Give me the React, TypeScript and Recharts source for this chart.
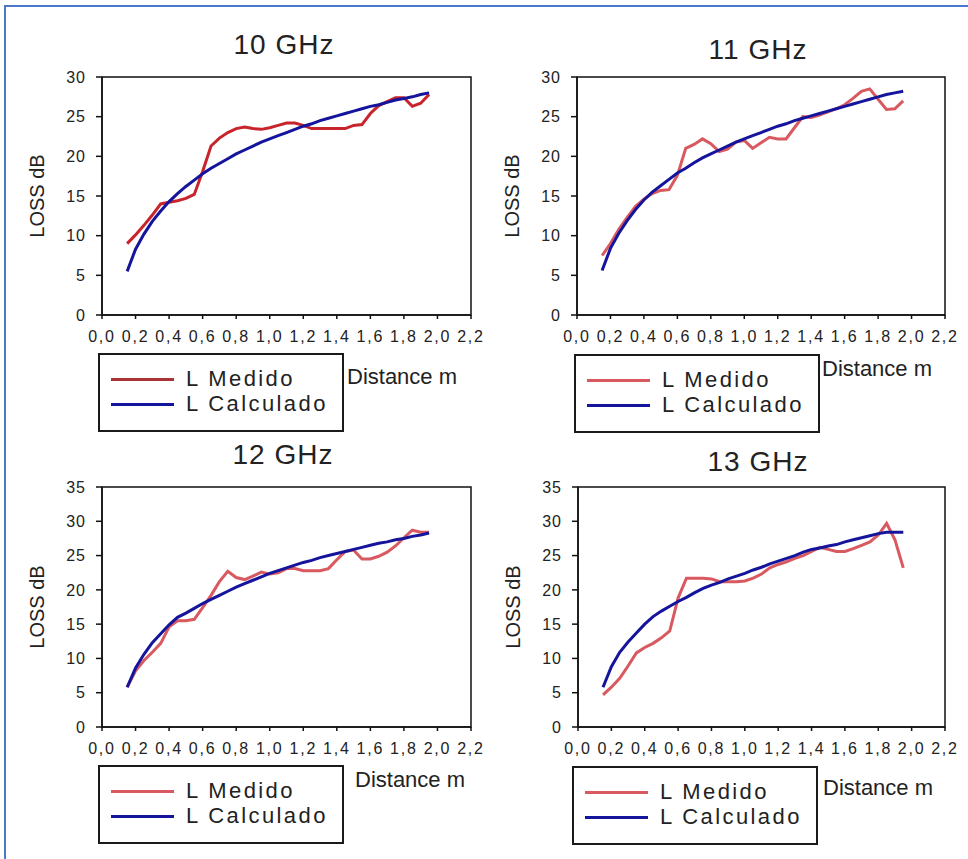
import React from "react"
import { LineChart, Line, XAxis, YAxis, Legend, ReferenceArea } from "recharts"

// distance in m, shared by every series
const distance = [
  0.15, 0.2, 0.25, 0.3, 0.35, 0.4, 0.45, 0.5, 0.55, 0.6, 0.65, 0.7, 0.75, 0.8, 0.85, 0.9, 0.95, 1.0, 1.05,
  1.1, 1.15, 1.2, 1.25, 1.3, 1.35, 1.4, 1.45, 1.5, 1.55, 1.6, 1.65, 1.7, 1.75, 1.8, 1.85, 1.9, 1.95,
]

const medido10 = [
  9.0, 10.1, 11.3, 12.6, 14.0, 14.2, 14.4, 14.7, 15.2, 18.1, 21.3, 22.3, 23.0, 23.5, 23.7, 23.5, 23.4, 23.6, 23.9,
  24.2, 24.2, 23.9, 23.5, 23.5, 23.5, 23.5, 23.5, 23.9, 24.0, 25.4, 26.4, 26.9, 27.4, 27.4, 26.3, 26.7, 27.8,
]
const calculado10 = [
  5.5, 8.3, 10.2, 11.8, 13.1, 14.3, 15.3, 16.2, 17.0, 17.8, 18.5, 19.1, 19.7, 20.3, 20.8, 21.3, 21.8, 22.2, 22.6,
  23.0, 23.4, 23.8, 24.1, 24.5, 24.8, 25.1, 25.4, 25.7, 26.0, 26.3, 26.5, 26.8, 27.1, 27.3, 27.5, 27.8, 28.0,
]

const medido11 = [
  7.5, 9.0, 10.8, 12.3, 13.7, 14.6, 15.3, 15.7, 15.8, 17.6, 21.0, 21.5, 22.2, 21.6, 20.6, 20.9, 21.8, 22.0, 21.0,
  21.7, 22.4, 22.2, 22.2, 23.6, 25.0, 24.9, 25.2, 25.6, 26.0, 26.5, 27.3, 28.2, 28.5, 27.2, 25.9, 26.0, 27.0,
]
const calculado11 = [
  5.6, 8.4, 10.3, 11.9, 13.3, 14.5, 15.5, 16.3, 17.1, 17.9, 18.5, 19.2, 19.8, 20.3, 20.8, 21.3, 21.8, 22.2, 22.6,
  23.0, 23.4, 23.8, 24.1, 24.5, 24.8, 25.1, 25.4, 25.7, 26.0, 26.3, 26.6, 26.9, 27.2, 27.5, 27.8, 28.0, 28.2,
]

const medido12 = [
  5.8, 8.2, 9.7, 10.9, 12.2, 14.6, 15.5, 15.5, 15.7, 17.4, 19.2, 21.2, 22.7, 21.8, 21.5, 22.0, 22.6, 22.3, 22.5,
  23.1, 23.1, 22.8, 22.8, 22.8, 23.1, 24.4, 25.6, 25.8, 24.5, 24.5, 24.9, 25.5, 26.4, 27.6, 28.7, 28.4, 28.4,
]
const calculado12 = [
  5.8, 8.6, 10.6, 12.3, 13.6, 14.9, 16.0, 16.6, 17.3, 18.0, 18.6, 19.2, 19.8, 20.4, 20.9, 21.4, 21.9, 22.4, 22.8,
  23.2, 23.6, 24.0, 24.3, 24.7, 25.0, 25.3, 25.6, 25.9, 26.2, 26.5, 26.8, 27.0, 27.3, 27.5, 27.8, 28.0, 28.3,
]

const medido13 = [
  4.7, 5.8, 7.1, 8.9, 10.8, 11.6, 12.2, 13.0, 14.0, 18.8, 21.7, 21.7, 21.7, 21.6, 21.2, 21.2, 21.2, 21.3, 21.7,
  22.3, 23.2, 23.7, 24.1, 24.6, 25.0, 25.6, 26.2, 25.9, 25.6, 25.6, 26.0, 26.5, 27.0, 28.0, 29.7, 27.3, 23.2,
]
const calculado13 = [
  5.8, 8.8, 10.9, 12.4, 13.7, 15.0, 16.1, 16.9, 17.6, 18.3, 18.9, 19.6, 20.2, 20.7, 21.1, 21.6, 22.0, 22.4, 22.9,
  23.3, 23.8, 24.2, 24.6, 25.0, 25.5, 25.9, 26.1, 26.4, 26.6, 27.0, 27.3, 27.6, 27.9, 28.2, 28.4, 28.4, 28.4,
]

const xTicks = [0, 0.2, 0.4, 0.6, 0.8, 1.0, 1.2, 1.4, 1.6, 1.8, 2.0, 2.2]
const yTicks30 = [0, 5, 10, 15, 20, 25, 30]
const yTicks35 = [0, 5, 10, 15, 20, 25, 30, 35]

const BLUE = "#14149c"
const RED_DARK = "#c8242b"
const RED_LIGHT = "#d8595f"
const FONT = "'Liberation Sans', Arial, sans-serif"

const fmt = (v: number) => v.toFixed(1).replace(".", ",")

const buildRows = (medido: number[], calculado: number[]) =>
  distance.map((d, i) => ({ d, medido: medido[i], calculado: calculado[i] }))

interface PanelProps {
  title: string
  medido: number[]
  calculado: number[]
  red: string
  legendRed: string
  yTicks: number[]
  plot: { left: number; top: number; right: number; bottom: number }
  titlePos: { x: number; y: number }
  legendPos: { x: number; y: number }
  distPos: { x: number; y: number }
}

const LegendBox = ({ red }: { red: string }) => (
  <div
    style={{
      position: "relative",
      width: 246,
      height: 79,
      border: "2px solid #1a1a1a",
      boxSizing: "border-box",
      background: "#fff",
      fontFamily: FONT,
      fontSize: 22,
      letterSpacing: 2.4,
      color: "#222",
    }}
  >
    <div style={{ position: "absolute", left: 11, top: 23, width: 63, height: 3, background: red }} />
    <div style={{ position: "absolute", left: 86, top: 11, lineHeight: "26px" }}>L Medido</div>
    <div style={{ position: "absolute", left: 11, top: 48, width: 63, height: 3, background: BLUE }} />
    <div style={{ position: "absolute", left: 86, top: 36, lineHeight: "26px" }}>L Calculado</div>
  </div>
)

const Panel = ({ title, medido, calculado, red, legendRed, yTicks, plot, titlePos, legendPos, distPos }: PanelProps) => {
  const rows = buildRows(medido, calculado)
  const yMax = yTicks[yTicks.length - 1]
  const divLeft = plot.left - 102
  const divTop = plot.top - 17
  const plotW = plot.right - plot.left
  const plotH = plot.bottom - plot.top
  const width = 500
  const height = plotH + 17 + 35 + 140
  return (
    <>
      <div
        style={{
          position: "absolute",
          left: titlePos.x - 80,
          top: titlePos.y - 17,
          width: 160,
          textAlign: "center",
          fontFamily: FONT,
          fontSize: 28,
          letterSpacing: 1,
          lineHeight: "34px",
          color: "#222",
        }}
      >
        {title}
      </div>
      <div
        style={{
          position: "absolute",
          left: distPos.x,
          top: distPos.y - 13,
          fontFamily: FONT,
          fontSize: 22,
          lineHeight: "26px",
          color: "#222",
          whiteSpace: "nowrap",
        }}
      >
        Distance m
      </div>
      <div style={{ position: "absolute", left: divLeft, top: divTop }}>
        <LineChart
          width={width}
          height={height}
          data={rows}
          margin={{ top: 17, left: 32, right: width - 102 - plotW, bottom: 140 }}
        >
          <XAxis
            dataKey="d"
            type="number"
            domain={[0, 2.2]}
            ticks={xTicks}
            tickFormatter={fmt}
            height={35}
            interval={0}
            tickSize={4}
            tickMargin={12}
            stroke="#111"
            strokeWidth={1.5}
            tick={{ fill: "#222", fontSize: 16, fontFamily: FONT, letterSpacing: 1.8 }}
          />
          <YAxis
            type="number"
            domain={[0, yMax]}
            ticks={yTicks}
            interval={0}
            width={70}
            tickSize={6}
            tickMargin={10}
            stroke="#111"
            strokeWidth={1.5}
            tick={{ fill: "#222", fontSize: 16, fontFamily: FONT, letterSpacing: 1 }}
            label={{
              value: "LOSS dB",
              angle: -90,
              position: "insideLeft",
              offset: 5,
              style: { textAnchor: "middle", fontSize: 20, fontFamily: FONT, fill: "#222" },
            }}
          />
          <ReferenceArea x1={0} x2={2.2} y1={0} y2={yMax} fill="none" stroke="#111" strokeWidth={1.5} />
          <Line
            dataKey="medido"
            name="L Medido"
            stroke={red}
            strokeWidth={3}
            dot={false}
            isAnimationActive={false}
          />
          <Line
            dataKey="calculado"
            name="L Calculado"
            stroke={BLUE}
            strokeWidth={3}
            dot={false}
            isAnimationActive={false}
          />
          <Legend
            layout="vertical"
            align="center"
            verticalAlign="middle"
            content={() => <LegendBox red={legendRed} />}
            wrapperStyle={{ left: legendPos.x - divLeft, top: legendPos.y - divTop, width: 246, height: 79 }}
          />
        </LineChart>
      </div>
    </>
  )
}

export default function App() {
  return (
    <div
      style={{
        position: "absolute",
        left: 0,
        top: 0,
        width: 968,
        height: 859,
        background: "#fff",
        overflow: "hidden",
      }}
    >
      <div
        style={{
          position: "absolute",
          left: 4,
          top: 5,
          width: 970,
          height: 870,
          borderTop: "2px solid #4a78cf",
          borderLeft: "2px solid #4a78cf",
        }}
      />
      <Panel
        title="10 GHz"
        medido={medido10}
        calculado={calculado10}
        red={RED_DARK}
        legendRed="#a83236"
        yTicks={yTicks30}
        plot={{ left: 102, top: 77, right: 471, bottom: 315 }}
        titlePos={{ x: 284, y: 45 }}
        legendPos={{ x: 98, y: 353 }}
        distPos={{ x: 347, y: 377 }}
      />
      <Panel
        title="11 GHz"
        medido={medido11}
        calculado={calculado11}
        red={RED_LIGHT}
        legendRed={RED_LIGHT}
        yTicks={yTicks30}
        plot={{ left: 577, top: 77, right: 945, bottom: 315 }}
        titlePos={{ x: 758, y: 50 }}
        legendPos={{ x: 574, y: 354 }}
        distPos={{ x: 822, y: 369 }}
      />
      <Panel
        title="12 GHz"
        medido={medido12}
        calculado={calculado12}
        red={RED_LIGHT}
        legendRed={RED_LIGHT}
        yTicks={yTicks35}
        plot={{ left: 102, top: 487, right: 471, bottom: 727 }}
        titlePos={{ x: 283, y: 455 }}
        legendPos={{ x: 98, y: 765 }}
        distPos={{ x: 355, y: 780 }}
      />
      <Panel
        title="13 GHz"
        medido={medido13}
        calculado={calculado13}
        red={RED_LIGHT}
        legendRed={RED_LIGHT}
        yTicks={yTicks35}
        plot={{ left: 578, top: 487, right: 945, bottom: 727 }}
        titlePos={{ x: 758, y: 462 }}
        legendPos={{ x: 572, y: 766 }}
        distPos={{ x: 823, y: 788 }}
      />
    </div>
  )
}
